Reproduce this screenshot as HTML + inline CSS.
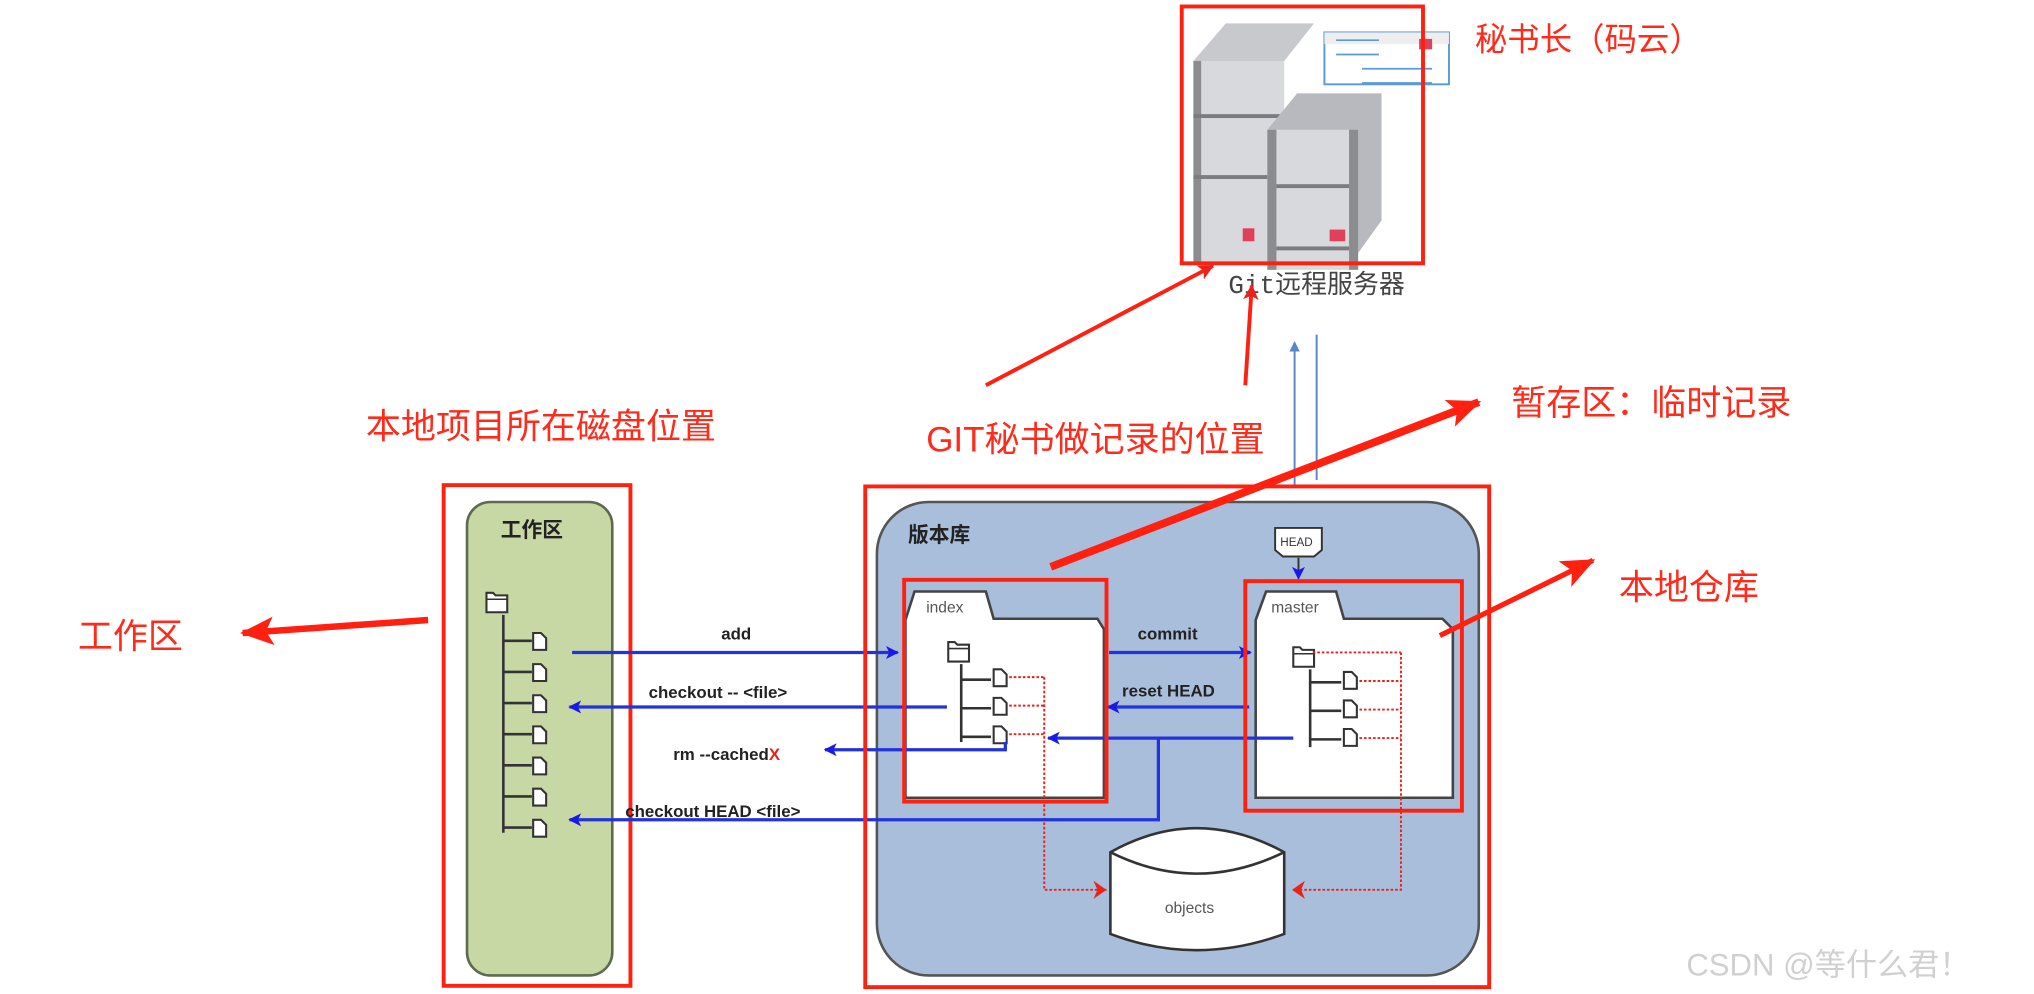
<!DOCTYPE html>
<html><head><meta charset="utf-8"><style>
html,body{margin:0;padding:0;background:#fff;}
svg{display:block;}
.r{font-family:"Liberation Sans","Noto Sans CJK SC",sans-serif;fill:#ff2a1a;}
.b{font-family:"Liberation Sans","Noto Sans CJK SC",sans-serif;font-weight:bold;fill:#222;}
</style></head><body>
<svg width="2034" height="994" viewBox="0 0 1568 766.3" xmlns="http://www.w3.org/2000/svg">
<defs>
<marker id="ab" markerWidth="10" markerHeight="10" refX="9" refY="5" orient="auto" markerUnits="userSpaceOnUse"><path d="M0,0 L10,5 L0,10 L2.5,5 z" fill="#1a1ae6"/></marker>
<marker id="ar" markerWidth="12" markerHeight="12" refX="11" refY="6" orient="auto" markerUnits="userSpaceOnUse"><path d="M0,0 L12,6 L0,12 L3,6 z" fill="#e8231c"/></marker>
<marker id="big" markerWidth="26" markerHeight="22" refX="24" refY="11" orient="auto" markerUnits="userSpaceOnUse"><path d="M0,0 L26,11 L0,22 L6,11 z" fill="#ff2010"/></marker>
<marker id="al" markerWidth="8" markerHeight="8" refX="7" refY="4" orient="auto" markerUnits="userSpaceOnUse"><path d="M0,0 L8,4 L0,8 z" fill="#5a86c8"/></marker>
<g id="file"><path d="M0,0 h6 l4,4 v9 h-10 z" fill="#fff" stroke="#333" stroke-width="1.6"/></g>
<g id="fold"><path d="M0,3 h5 l2,2 h9 v13 h-16 z" fill="#fff" stroke="#333" stroke-width="1.6"/><path d="M0,8 h16" stroke="#333" stroke-width="1.2"/></g>
</defs>

<!-- Server -->
<rect x="1021" y="25" width="96" height="40" fill="#fff" stroke="#5a9ad8" stroke-width="1.5"/>
<rect x="1021" y="25" width="96" height="9" fill="#eee"/>
<rect x="1094" y="30" width="10" height="8" fill="#e0405a"/>
<g stroke="#5a9ad8" stroke-width="1.3"><line x1="1030" y1="31" x2="1063" y2="31"/><line x1="1030" y1="42" x2="1063" y2="42"/><line x1="1050" y1="53" x2="1104" y2="53"/><line x1="1050" y1="64" x2="1104" y2="64"/></g>
<path d="M920,47 L945,18 L1013,18 L990,47 z" fill="#c8c9cd"/>
<rect x="920" y="47" width="70" height="155" fill="#d8d9dd"/>
<rect x="920" y="47" width="6" height="155" fill="#8a8c90"/>
<rect x="920" y="88" width="70" height="3" fill="#7a7c80"/>
<rect x="920" y="135" width="70" height="3" fill="#7a7c80"/>
<rect x="958" y="176" width="9" height="10" fill="#e0405a"/>
<path d="M977,100 L1000,72 L1065,72 L1065,170 L1047,195 z" fill="#b8b9be"/>
<rect x="977" y="100" width="70" height="108" fill="#d8d9dd"/>
<rect x="977" y="100" width="7" height="108" fill="#8a8c90"/>
<rect x="1040" y="100" width="7" height="108" fill="#8a8c90"/>
<rect x="984" y="142" width="56" height="3" fill="#7a7c80"/>
<rect x="984" y="190" width="56" height="3" fill="#7a7c80"/>
<rect x="1025" y="177" width="12" height="9" fill="#e0405a"/>
<rect x="911" y="5" width="186" height="198" fill="none" stroke="#ff2010" stroke-width="3"/>
<text x="947" y="226" font-family="Liberation Mono,'Noto Sans CJK SC',monospace" font-size="20" fill="#444">Git远程服务器</text>
<text class="r" x="1137" y="39" font-size="25">秘书长（码云）</text>

<!-- red arrows top -->
<line x1="760" y1="297" x2="935" y2="205" stroke="#ff2010" stroke-width="3" marker-end="url(#ar)"/>
<line x1="960" y1="297" x2="965" y2="220" stroke="#ff2010" stroke-width="3" marker-end="url(#ar)"/>
<line x1="998" y1="375" x2="998" y2="264" stroke="#5a86c8" stroke-width="1.5" marker-end="url(#al)"/>
<line x1="1015" y1="258" x2="1015" y2="370" stroke="#5a86c8" stroke-width="1.5"/>

<text class="r" x="282" y="338" font-size="27">本地项目所在磁盘位置</text>
<text class="r" x="714" y="348" font-size="27">GIT秘书做记录的位置</text>
<text class="r" x="1165" y="320" font-size="27">暂存区：临时记录</text>
<text class="r" x="1248" y="462" font-size="27">本地仓库</text>
<text class="r" x="60" y="500" font-size="27">工作区</text>

<!-- workspace -->
<rect x="360" y="387" width="112" height="365" rx="18" fill="#c8d8a4" stroke="#5e6a50" stroke-width="2"/>
<text class="b" x="386" y="414" font-size="16">工作区</text>
<use href="#fold" x="375" y="454"/>
<line x1="388" y1="474" x2="388" y2="642" stroke="#333" stroke-width="2"/>
<g stroke="#333" stroke-width="2">
<line x1="388" y1="494" x2="410" y2="494"/><line x1="388" y1="518" x2="410" y2="518"/><line x1="388" y1="542" x2="410" y2="542"/><line x1="388" y1="566" x2="410" y2="566"/><line x1="388" y1="590" x2="410" y2="590"/><line x1="388" y1="614" x2="410" y2="614"/><line x1="388" y1="638" x2="410" y2="638"/></g>
<use href="#file" x="411" y="488"/><use href="#file" x="411" y="512"/><use href="#file" x="411" y="536"/><use href="#file" x="411" y="560"/><use href="#file" x="411" y="584"/><use href="#file" x="411" y="608"/><use href="#file" x="411" y="632"/>
<rect x="342" y="374" width="144" height="386" fill="none" stroke="#ff2010" stroke-width="3"/>

<!-- repo -->
<rect x="676" y="387" width="464" height="365" rx="40" fill="#a9bedb" stroke="#555" stroke-width="2"/>
<text class="b" x="700" y="418" font-size="16">版本库</text>
<path d="M698,615 L698,478 L705,456 L760,456 L766,477 L846,477 L851,485 L851,615 z" fill="#fff" stroke="#444" stroke-width="2"/>
<text x="714" y="472" font-family="Liberation Sans,sans-serif" font-size="12" fill="#555">index</text>
<path d="M968,615 L968,478 L976,456 L1030,456 L1036,477 L1112,477 L1120,485 L1120,615 z" fill="#fff" stroke="#444" stroke-width="2"/>
<text x="980" y="472" font-family="Liberation Sans,sans-serif" font-size="12" fill="#555">master</text>
<path d="M983,407 h36 v17 l-6,5 h-24 l-6,-5 z" fill="#fff" stroke="#333" stroke-width="1.5"/>
<text x="987" y="421" font-family="Liberation Sans,sans-serif" font-size="9" fill="#333">HEAD</text>
<line x1="1001" y1="430" x2="1001" y2="446" stroke="#333" stroke-width="1.5" marker-end="url(#ab)"/>
<use href="#fold" x="731" y="492"/>
<line x1="741" y1="512" x2="741" y2="572" stroke="#333" stroke-width="2"/>
<g stroke="#333" stroke-width="2"><line x1="741" y1="524" x2="764" y2="524"/><line x1="741" y1="546" x2="764" y2="546"/><line x1="741" y1="568" x2="764" y2="568"/></g>
<use href="#file" x="766" y="516"/><use href="#file" x="766" y="538"/><use href="#file" x="766" y="560"/>
<use href="#fold" x="997" y="496"/>
<line x1="1010" y1="516" x2="1010" y2="576" stroke="#333" stroke-width="2"/>
<g stroke="#333" stroke-width="2"><line x1="1010" y1="526" x2="1034" y2="526"/><line x1="1010" y1="548" x2="1034" y2="548"/><line x1="1010" y1="570" x2="1034" y2="570"/></g>
<use href="#file" x="1036" y="518"/><use href="#file" x="1036" y="540"/><use href="#file" x="1036" y="562"/>
<g stroke="#e8231c" stroke-width="1.5" stroke-dasharray="2,1.5" fill="none">
<path d="M778,522 H805 M778,544 H805 M778,566 H805 M805,522 V686 H853"/>
<path d="M1012,503 H1080 M1048,525 H1080 M1048,547 H1080 M1048,569 H1080 M1080,503 V686 H1000"/>
</g>
<path d="M853,686 l-10,-7 l3,7 l-3,7 z" fill="#e8231c"/>
<path d="M996,686 l10,-7 l-3,7 l3,7 z" fill="#e8231c"/>
<path d="M856,657 Q922,620 990,657 V720 Q922,745 856,720 z" fill="#fff" stroke="#333" stroke-width="2"/>
<path d="M856,657 Q922,690 990,657" fill="none" stroke="#333" stroke-width="2"/>
<text x="898" y="704" font-family="Liberation Sans,sans-serif" font-size="12" fill="#555">objects</text>

<g stroke="#2233dd" stroke-width="2.5" fill="none">
<line x1="441" y1="503" x2="692" y2="503" marker-end="url(#ab)"/>
<line x1="730" y1="545" x2="439" y2="545" marker-end="url(#ab)"/>
<path d="M775,572 V578 H636" marker-end="url(#ab)"/>
<path d="M893,569 V632 H439" marker-end="url(#ab)"/>
<line x1="855" y1="503" x2="964" y2="503" marker-end="url(#ab)"/>
<line x1="963" y1="545" x2="854" y2="545" marker-end="url(#ab)"/>
<line x1="997" y1="569" x2="808" y2="569" marker-end="url(#ab)"/>
</g>
<text class="b" x="556" y="493" font-size="13">add</text>
<text class="b" x="500" y="538" font-size="13">checkout -- &lt;file&gt;</text>
<text class="b" x="519" y="586" font-size="13">rm --cached<tspan fill="#e8231c">X</tspan></text>
<text class="b" x="482" y="630" font-size="13">checkout HEAD &lt;file&gt;</text>
<text class="b" x="877" y="493" font-size="13">commit</text>
<text class="b" x="865" y="537" font-size="13">reset HEAD</text>

<rect x="697" y="447" width="156" height="171" fill="none" stroke="#ff2010" stroke-width="3"/>
<rect x="960" y="448" width="167" height="177" fill="none" stroke="#ff2010" stroke-width="3"/>
<rect x="667" y="375" width="481" height="386" fill="none" stroke="#ff2010" stroke-width="3"/>

<!-- thick red arrows -->
<line x1="810" y1="437" x2="1140" y2="310" stroke="#ff2010" stroke-width="6" marker-end="url(#big)"/>
<line x1="1110" y1="490" x2="1228" y2="432" stroke="#ff2010" stroke-width="4" marker-end="url(#big)"/>
<line x1="330" y1="478" x2="187" y2="488" stroke="#ff2010" stroke-width="5" marker-end="url(#big)"/>

<text x="1300" y="752" font-family="Liberation Sans,'Noto Sans CJK SC',sans-serif" font-size="24" fill="#d0d0d0">CSDN @等什么君！</text>
</svg>
</body></html>
